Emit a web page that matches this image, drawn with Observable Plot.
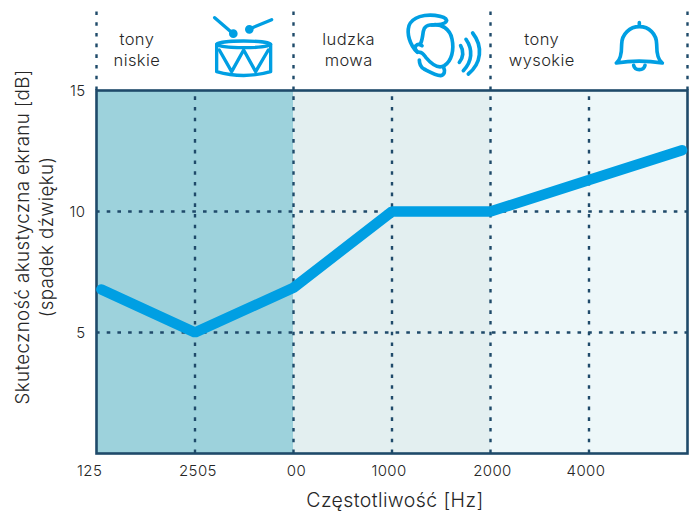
<!DOCTYPE html>
<html><head><meta charset="utf-8">
<script src="https://cdn.jsdelivr.net/npm/d3@7"></script>
<script src="https://cdn.jsdelivr.net/npm/@observablehq/plot@0.6"></script>
<style>html,body{margin:0;padding:0;background:#fff}svg{display:block}</style>
</head><body><div id="chart"></div>
<script>
const lineX = [0.05, 1, 2, 3, 4, 5, 5.945];
const lineY = [6.78, 5, 6.85, 10, 10, 11.3, 12.53];
const tickLabels = ["125", "2505", "00", "1000", "2000", "4000"];
const tickPos = [-0.07, 1.03, 2.03, 2.97, 4.02, 4.97];
const yTicks = [15, 10, 5];
const gridH = [5, 10];
const gridV = [1, 2, 3, 4, 5];
const bandStart = [0, 2, 4];
const bandEnd = [2, 4, 6];
const bandFill = ["#9dd2dc", "#e3eff0", "#edf7f9"];
const topV = [0, 2, 4, 6];
const groupLabels = ["tony\nniskie", "ludzka\nmowa", "tony\nwysokie"];
const groupPos = [0.41, 2.56, 4.52];
const yTitles = ["Skuteczność akustyczna ekranu [dB]", "(spadek dźwięku)"];
const xTitle = "Częstotliwość [Hz]";

const FONT = "Inter";
const INK = "#262626", NAVY = "#1f4a6a", BLUE = "#009fe3";
const idx = a => a.map((_, i) => i);
const dots = {stroke: NAVY, strokeWidth: 2.4, strokeDasharray: "3.6,7.1"};

function icons() {
  const g = d3.create("svg:g").attr("fill", "none").attr("stroke", BLUE)
    .attr("stroke-linecap", "round").attr("stroke-linejoin", "round");
  const drum = g.append("g").attr("transform", "translate(90,0) scale(0.3333)").attr("stroke-width", 10);
  drum.append("path").attr("d", "M374,53L428,100M545,59L478,87");
  drum.append("circle").attr("cx", 430).attr("cy", 101).attr("r", 8).attr("fill", BLUE);
  drum.append("circle").attr("cx", 478).attr("cy", 88).attr("r", 8).attr("fill", BLUE);
  drum.append("ellipse").attr("cx", 461).attr("cy", 133).attr("rx", 81).attr("ry", 10);
  drum.append("path").attr("d", "M380,133V215Q461,238 542,215V133");
  drum.append("path").attr("d", "M388,150L425,215L461,150L497,215L535,150");
  const head = g.append("g").attr("transform", "translate(400,5) scale(0.3333)").attr("stroke-width", 11);
  head.append("path").attr("d", "M52,142C28,118 20,85 27,62C38,34 75,28 105,31C122,33 138,38 140,46C138,56 118,60 90,60C72,62 70,75 68,92C66,105 65,112 60,118");
  head.append("path").attr("d", "M95,60C125,55 150,72 156,102C163,135 155,168 133,182C115,192 95,178 78,158C72,150 68,142 60,142C48,142 42,128 48,122C53,116 60,118 66,122");
  head.append("path").attr("d", "M58,165C58,175 60,185 72,192C88,200 105,210 122,212C134,210 136,198 131,188");
  head.append("path").attr("d", "M182,122C192,138 190,158 178,172M198,103C220,135 216,170 190,197M218,84C250,125 244,175 205,207");
  const bell = g.append("g").attr("transform", "translate(605,10) scale(0.3333)").attr("stroke-width", 11);
  bell.append("path").attr("d", "M103,38V50M34,159C48,150 50,125 50,103C50,72 75,50 103,50C132,50 155,72 155,103C155,125 157,150 172,159C130,152 75,152 34,159Z");
  bell.append("path").attr("d", "M86,166C90,183 116,183 120,166");
  return g.node();
}

const chart = Plot.plot({
  width: 694, height: 515,
  marginLeft: 96, marginRight: 7, marginTop: 90, marginBottom: 62,
  x: {type: "linear", domain: [0, 6], axis: null},
  y: {type: "linear", domain: [0, 15], axis: null},
  style: {fontFamily: FONT, background: "#fff", letterSpacing: "0.4px"},
  marks: [
    Plot.rectY(idx(bandFill), {x1: i => bandStart[i], x2: i => bandEnd[i], y1: 0, y2: 15, fill: i => bandFill[i]}),
    Plot.ruleX(gridV, {y1: 0, y2: 15, ...dots}),
    Plot.ruleY(gridH, {x1: 0, x2: 6, ...dots}),
    Plot.ruleX(topV, {y1: 15, y2: 18.5, ...dots}),
    Plot.frame({stroke: NAVY, strokeWidth: 2.6}),
    Plot.line(idx(lineX), {x: i => lineX[i], y: i => lineY[i], stroke: BLUE, strokeWidth: 10.5, strokeLinecap: "round", strokeLinejoin: "miter"}),
    Plot.text(yTicks, {x: 0, y: d => d, text: d => String(d), dx: -11, dy: 1, textAnchor: "end", fontSize: 15, fill: INK, fontWeight: 300}),
    Plot.text(tickLabels, {x: (d, i) => tickPos[i], y: 0, dy: 18, text: d => d, fontSize: 15, fill: INK, fontWeight: 300}),
    Plot.text(groupLabels, {x: (d, i) => groupPos[i], y: 16.72, text: d => d, fontSize: 16.5, lineHeight: 1.27, fill: INK, fontWeight: 300}),
    Plot.text([xTitle], {x: 3.03, y: 0, dy: 47, text: d => d, fontSize: 19.5, fill: INK, fontWeight: 300}),
    Plot.text([yTitles[0]], {x: 0, dx: -73, y: 8.95, rotate: -90, text: d => d, fontSize: 18.7, fill: INK, fontWeight: 300}),
    Plot.text([yTitles[1]], {x: 0, dx: -49, y: 8.95, rotate: -90, text: d => d, fontSize: 18.7, fill: INK, fontWeight: 300}),
    icons
  ]
});
document.getElementById("chart").append(chart);
</script></body></html>
